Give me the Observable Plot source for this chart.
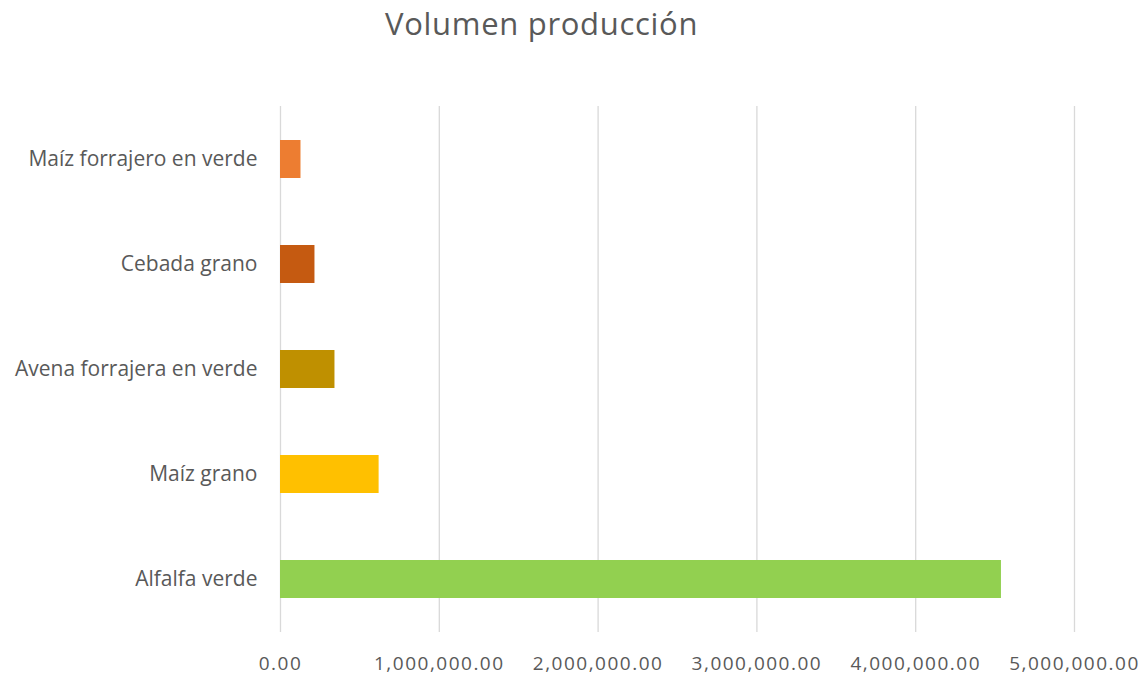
<!DOCTYPE html>
<html>
<head>
<meta charset="utf-8">
<script src="https://cdn.jsdelivr.net/npm/d3@7"></script>
<script src="https://cdn.jsdelivr.net/npm/@observablehq/plot@0.6"></script>
<style>
  html, body { margin: 0; padding: 0; background: #fff; }
  #title { height: 60px; width: 1140px; font-family: "Open Sans", sans-serif; font-size: 31px; letter-spacing: 0.7px; color: #595959; text-align: left; line-height: 46px; box-sizing: border-box; padding-left: 385px; white-space: nowrap; }
  #chart svg { display: block; }
  g[aria-label="x-axis tick label"] text { letter-spacing: 1.5px; }
</style>
</head>
<body>
<div id="title">Volumen producción</div>
<div id="chart"></div>
<script>
const categories = ["Maíz forrajero en verde", "Cebada grano", "Avena forrajera en verde", "Maíz grano", "Alfalfa verde"];
const values = [129000, 217000, 343000, 621000, 4540000];
const colors = ["#ED7D31", "#C55A11", "#BF9000", "#FFC000", "#92D050"];
const xTicks = [0, 1000000, 2000000, 3000000, 4000000, 5000000];

const data = categories.map((c, i) => ({category: c, value: values[i]}));
const fmt = d3.format(",.2f");

const chart = Plot.plot({
  width: 1140,
  height: 616,
  marginTop: 46,
  marginBottom: 44,
  marginLeft: 280,
  marginRight: 66,
  style: {fontFamily: "Open Sans, sans-serif", fontSize: "19px", color: "#595959", background: "#fff"},
  x: {domain: [0, 5000000], ticks: xTicks, tickFormat: fmt, label: null},
  y: {domain: categories, paddingInner: 0.64, paddingOuter: 0.32, label: null},
  color: {domain: categories, range: colors},
  marks: [
    Plot.gridX(xTicks, {stroke: "#d9d9d9", strokeOpacity: 1, strokeWidth: 1.3}),
    Plot.barX(data, {x: "value", y: "category", fill: "category"}),
    Plot.axisX(xTicks, {tickSize: 0, tickPadding: 23.5, tickFormat: fmt, fontSize: 19, fill: "#595959", label: null}),
    Plot.axisY({tickSize: 0, tickPadding: 23, fontSize: 21, fill: "#595959", label: null})
  ]
});
document.getElementById("chart").appendChild(chart);
</script>
</body>
</html>
